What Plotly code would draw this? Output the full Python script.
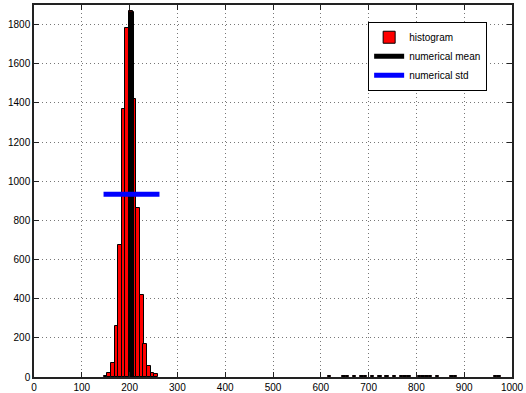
import plotly.graph_objects as go

# Histogram bins (centers) and counts
bin_width = 7.55
main_centers = [149.8, 157.3, 164.9, 172.4, 180.0, 187.5, 195.1, 202.6, 210.2,
                217.7, 225.3, 232.8, 240.4, 247.9, 255.5]
main_counts = [5, 20, 71, 262, 676, 1369, 1783, 1868, 1420, 862, 418, 167, 56, 18, 13]

tail_centers = [617.9, 648.1, 655.7, 670.7, 685.8, 693.4, 708.5, 723.6, 738.7,
                753.8, 768.9, 776.4, 784.0, 806.6, 814.2, 821.7, 829.3, 844.4,
                874.6, 882.1, 965.2, 972.7]
tail_counts = [6, 5, 4, 5, 6, 5, 4, 5, 6, 4, 5, 6, 4, 5, 6, 5, 6, 4, 5, 6, 5, 6]

num_mean = 204.0
num_std = 58.5

x_ticks = [0, 100, 200, 300, 400, 500, 600, 700, 800, 900, 1000]
y_ticks = [0, 200, 400, 600, 800, 1000, 1200, 1400, 1600, 1800]

centers = main_centers + tail_centers
counts = main_counts + tail_counts
peak = max(counts)

fig = go.Figure()
fig.add_trace(go.Bar(
    x=centers, y=counts, width=bin_width, name="histogram",
    marker=dict(color="#ff0000", line=dict(color="black", width=1)),
))
fig.add_trace(go.Scatter(
    x=[num_mean, num_mean], y=[0, peak], mode="lines", name="numerical mean",
    line=dict(color="black", width=5),
))
fig.add_trace(go.Scatter(
    x=[num_mean - num_std, num_mean + num_std], y=[peak / 2, peak / 2],
    mode="lines", name="numerical std",
    line=dict(color="#0000ff", width=5),
))

font_family = "Liberation Sans, Arial, sans-serif"
axis_common = dict(
    showline=True, linecolor="#222222", linewidth=1.5, mirror="ticks",
    ticks="inside", ticklen=5, tickcolor="#222222", tickwidth=1,
    showgrid=True, gridcolor="#777777", griddash="1px,3px", gridwidth=1,
    zeroline=False, automargin=False,
    tickfont=dict(family=font_family, size=10, color="black"),
)

fig.update_layout(
    width=526, height=393,
    margin=dict(l=34, r=14, t=5, b=16),
    paper_bgcolor="white", plot_bgcolor="white",
    bargap=0,
    showlegend=True,
    legend=dict(
        x=0.948, y=0.955, xanchor="right", yanchor="top",
        bgcolor="white", bordercolor="black", borderwidth=1,
        font=dict(family=font_family, size=10, color="black"),
        tracegroupgap=0,
    ),
    xaxis=dict(range=[0, 1000], tickvals=x_ticks, **axis_common),
    yaxis=dict(range=[0, 1900], tickvals=y_ticks, **axis_common),
)

fig.write_html("out.html", config={"displayModeBar": False},
               post_script="document.body.style.margin='0';")
